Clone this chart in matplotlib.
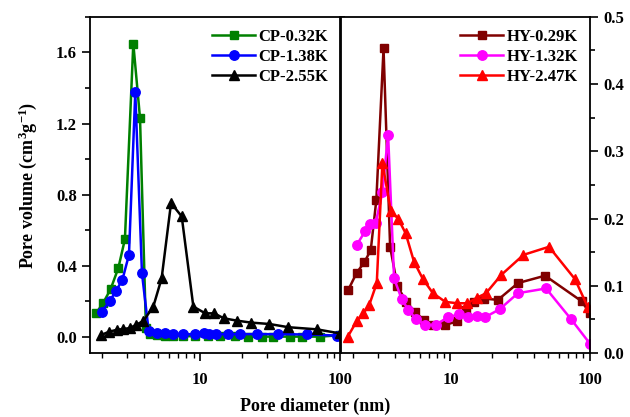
import numpy as np
import matplotlib.pyplot as plt
from matplotlib.ticker import MultipleLocator, LogLocator, NullFormatter, FixedLocator, FixedFormatter

plt.rcParams['font.family'] = ['Liberation Serif', 'DejaVu Serif']
plt.rcParams['font.weight'] = 'bold'
plt.rcParams['mathtext.fontset'] = 'custom'
plt.rcParams['mathtext.rm'] = 'Liberation Serif'
plt.rcParams['mathtext.bf'] = 'Liberation Serif:bold'
plt.rcParams['mathtext.default'] = 'bf'

# CP series (left panel)
cp032_x = [1.81, 2.04, 2.30, 2.61, 2.91, 3.34, 3.73, 4.11, 4.39, 4.93, 5.62, 6.41, 7.56, 9.21,
           11.4, 13.9, 17.8, 22.0, 27.7, 33.2, 43.9, 53.4, 71.9, 100]
cp032_y = [0.133, 0.193, 0.269, 0.387, 0.55, 1.65, 1.23, 0.05, 0.015, 0.01, 0.008, 0.006, 0.005,
           0.004, 0.004, 0.003, 0.003, 0.002, 0.002, 0.002, 0.002, 0.002, 0.002, 0.01]

cp138_x = [1.99, 2.28, 2.51, 2.79, 3.11, 3.45, 3.85, 4.30, 4.91, 5.62, 6.44, 7.61, 9.2, 10.6,
           11.5, 13.1, 15.9, 19.3, 25.4, 36.2, 57.8, 95.6]
cp138_y = [0.143, 0.205, 0.259, 0.321, 0.462, 1.376, 0.359, 0.034, 0.025, 0.02, 0.018, 0.016,
           0.015, 0.02, 0.016, 0.016, 0.016, 0.016, 0.016, 0.016, 0.014, 0.008]

cp255_x = [1.95, 2.25, 2.54, 2.83, 3.16, 3.49, 3.94, 4.64, 5.32, 6.21, 7.4, 8.96, 10.9, 12.6,
           14.8, 18.3, 23.1, 31.3, 42.7, 68.2, 100]
cp255_y = [0.01, 0.03, 0.04, 0.045, 0.05, 0.068, 0.09, 0.171, 0.33, 0.753, 0.678, 0.171, 0.133,
           0.133, 0.105, 0.092, 0.081, 0.073, 0.055, 0.043, 0.02]

# HY series (right panel)
hy029_x = [1.85, 2.12, 2.41, 2.68, 2.94, 3.31, 3.69, 4.16, 4.83, 5.56, 6.45, 7.52, 9.2, 11.2,
           13.0, 14.8, 17.3, 21.9, 30.5, 47.7, 87.3, 100]
hy029_y = [0.094, 0.119, 0.135, 0.153, 0.228, 0.453, 0.158, 0.0997, 0.076, 0.061, 0.049, 0.042,
           0.042, 0.047, 0.064, 0.076, 0.081, 0.079, 0.104, 0.115, 0.077, 0.059]

hy132_x = [2.13, 2.44, 2.65, 2.91, 3.25, 3.57, 3.94, 4.47, 4.99, 5.69, 6.55, 7.82, 9.57, 11.5,
           13.3, 15.5, 17.6, 22.5, 30.5, 48.5, 73.1, 100]
hy132_y = [0.161, 0.181, 0.192, 0.194, 0.239, 0.325, 0.111, 0.080, 0.064, 0.050, 0.042, 0.042,
           0.053, 0.0576, 0.054, 0.055, 0.053, 0.065, 0.089, 0.096, 0.0506, 0.014]

hy247_x = [1.83, 2.12, 2.37, 2.61, 2.96, 3.25, 3.73, 4.21, 4.77, 5.47, 6.34, 7.48, 9.2, 11.2,
           13.2, 15.5, 18.0, 23.1, 33.4, 50.9, 78.1, 96.3]
hy247_y = [0.024, 0.047, 0.059, 0.071, 0.104, 0.283, 0.211, 0.200, 0.178, 0.136, 0.110, 0.089,
           0.076, 0.074, 0.074, 0.082, 0.089, 0.116, 0.146, 0.158, 0.110, 0.069]

fig = plt.figure(figsize=(6.3, 4.17), dpi=100)
ax1 = fig.add_axes([0.1429, 0.1535, 0.397, 0.806])
ax2 = fig.add_axes([0.5413, 0.1535, 0.395, 0.806])

lw = 1.8
ms = 5.8
ax1.plot(cp032_x, cp032_y, '-s', color='#008000', lw=lw, ms=ms, label='CP-0.32K')
ax1.plot(cp138_x, cp138_y, '-o', color='#0000FF', lw=lw, ms=ms + 1, label='CP-1.38K')
ax1.plot(cp255_x, cp255_y, '-^', color='black', lw=lw, ms=ms + 1, label='CP-2.55K')

ax2.plot(hy029_x, hy029_y, '-s', color='#800000', lw=lw, ms=ms, label='HY-0.29K')
ax2.plot(hy132_x, hy132_y, '-o', color='#FF00FF', lw=lw, ms=ms + 1, label='HY-1.32K')
ax2.plot(hy247_x, hy247_y, '-^', color='#FF0000', lw=lw, ms=ms + 1, label='HY-2.47K')

for ax in (ax1, ax2):
    ax.set_xscale('log')
    ax.set_xlim(1.64, 100)
    ax.xaxis.set_major_locator(FixedLocator([10, 100]))
    ax.xaxis.set_major_formatter(FixedFormatter(['10', '100']))
    ax.xaxis.set_minor_locator(LogLocator(base=10, subs=np.arange(2, 10), numticks=10))
    ax.xaxis.set_minor_formatter(NullFormatter())
    ax.tick_params(axis='x', which='major', direction='out', length=6, width=1.2, labelsize=12, pad=8)
    ax.tick_params(axis='x', which='minor', direction='out', length=3.5, width=1)
    for s in ax.spines.values():
        s.set_linewidth(1.3)
    ax.legend(loc='upper right', frameon=False, fontsize=12, handlelength=2.6,
              handletextpad=0.2, labelspacing=0.25, borderaxespad=0.3)

ax1.set_ylim(-0.09, 1.80)
ax1.yaxis.set_major_locator(MultipleLocator(0.4))
ax1.yaxis.set_minor_locator(MultipleLocator(0.2))
ax1.yaxis.set_major_formatter(plt.FuncFormatter(lambda v, p: f'{v:.1f}'))
ax1.tick_params(axis='y', which='both', direction='out', labelsize=12, right=True, width=1.2)
ax1.tick_params(axis='y', which='major', length=6)
ax1.tick_params(axis='y', which='minor', length=3.5)
ax1.set_ylabel('Pore volume (cm$^{3}$g$^{-1}$)', fontsize=13, fontweight='bold', labelpad=12)

ax2.set_ylim(0, 0.5)
ax2.yaxis.set_major_locator(MultipleLocator(0.1))
ax2.yaxis.set_minor_locator(MultipleLocator(0.05))
ax2.yaxis.set_major_formatter(plt.FuncFormatter(lambda v, p: f'{v:.1f}'))
ax2.yaxis.tick_right()
ax2.tick_params(axis='y', which='both', direction='out', labelsize=12, left=False, width=1.2)
ax2.tick_params(axis='y', which='major', length=6)
ax2.tick_params(axis='y', which='minor', length=3.5)

fig.text(0.5, 0.005, 'Pore diameter (nm)', ha='center', va='bottom', fontsize=13, fontweight='bold')

fig.savefig('out.png', dpi=100)
